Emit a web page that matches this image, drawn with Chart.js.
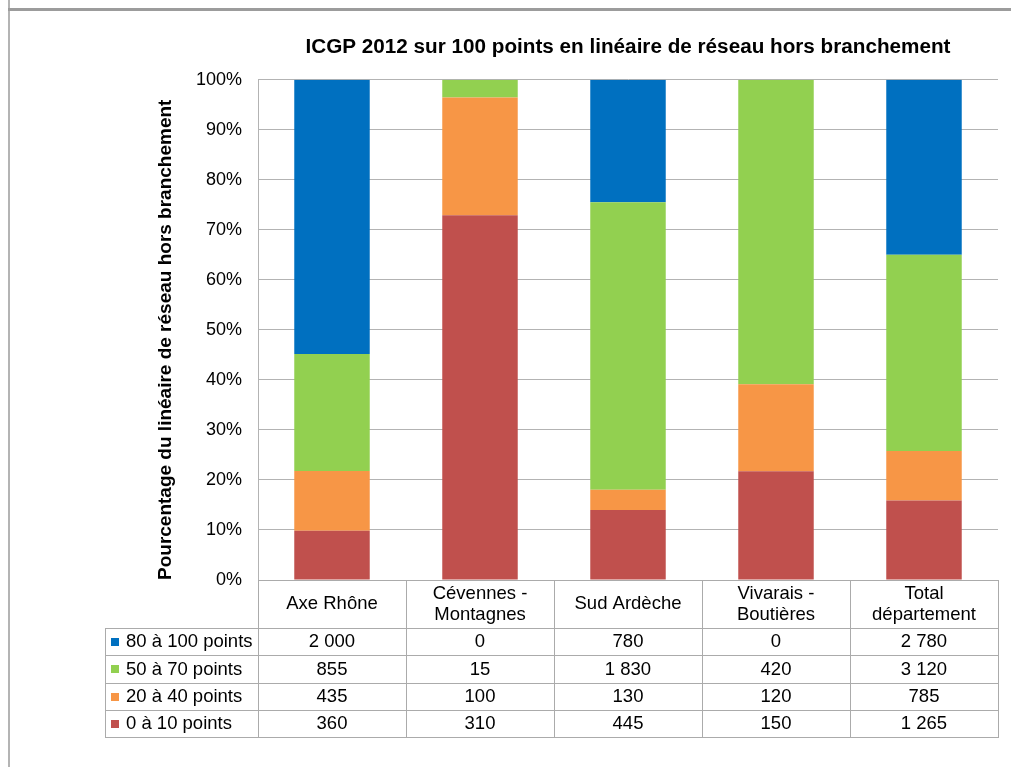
<!DOCTYPE html>
<html>
<head>
<meta charset="utf-8">
<script src="https://cdn.jsdelivr.net/npm/chart.js@4.4.1/dist/chart.umd.min.js"></script>
<style>
html,body{margin:0;padding:0;background:#fff;}
#wrap{width:1011px;height:767px;position:relative;}
canvas{display:block;}
</style>
</head>
<body>
<div id="wrap"><canvas id="c" width="1011" height="767"></canvas></div>
<script>
// ---- Data ----
const categories = [['Axe Rhône'], ['Cévennes -', 'Montagnes'], ['Sud Ardèche'], ['Vivarais -', 'Boutières'], ['Total', 'département']];
const seriesNames = ['0 à 10 points', '20 à 40 points', '50 à 70 points', '80 à 100 points'];
const v0to10 = [360, 310, 445, 150, 1265];
const v20to40 = [435, 100, 130, 120, 785];
const v50to70 = [855, 15, 1830, 420, 3120];
const v80to100 = [2000, 0, 780, 0, 2780];
const seriesColors = ['#C0504D', '#F79646', '#92D050', '#0070C0'];
const chartTitle = 'ICGP 2012 sur 100 points en linéaire de réseau hors branchement';
const yAxisTitle = 'Pourcentage du linéaire de réseau hors branchement';

const seriesValues = [v0to10, v20to40, v50to70, v80to100];
const totals = categories.map((_, i) => seriesValues.reduce((s, arr) => s + arr[i], 0));
const FONT = "'Liberation Sans', Arial, sans-serif";

function fmt(n) {
  return String(n).replace(/\B(?=(\d{3})+(?!\d))/g, ' ');
}

const framePlugin = {
  id: 'frame',
  beforeDraw(chart) {
    const ctx = chart.ctx;
    ctx.save();
    ctx.fillStyle = '#ffffff';
    ctx.fillRect(0, 0, chart.width, chart.height);
    ctx.fillStyle = '#b4b4b4';
    ctx.fillRect(8, 0, 2, chart.height);
    ctx.fillStyle = '#9c9c9c';
    ctx.fillRect(8, 8, chart.width - 8, 3);
    ctx.restore();
  }
};

const tablePlugin = {
  id: 'dataTable',
  afterDraw(chart) {
    const ctx = chart.ctx;
    const x = chart.scales.x;
    const n = categories.length;
    const colW = (x.right - x.left) / n;
    const top = chart.chartArea.bottom;
    const headerH = 48;
    const rowH = 27.3;
    const legendLeft = 105;
    const rowsOrder = [3, 2, 1, 0];
    const bottom = top + headerH + rowH * rowsOrder.length;
    const px = v => Math.round(v) + 0.5;

    ctx.save();
    ctx.strokeStyle = '#ababab';
    ctx.lineWidth = 1;
    ctx.beginPath();
    for (let i = 0; i <= n; i++) {
      const xx = px(x.left + i * colW);
      ctx.moveTo(xx, top);
      ctx.lineTo(xx, bottom);
    }
    ctx.moveTo(px(legendLeft), top + headerH);
    ctx.lineTo(px(legendLeft), bottom);
    ctx.moveTo(x.left, px(top));
    ctx.lineTo(x.right, px(top));
    for (let r = 0; r <= rowsOrder.length; r++) {
      const yy = px(top + headerH + r * rowH);
      ctx.moveTo(legendLeft, yy);
      ctx.lineTo(x.right + 1, yy);
    }
    ctx.stroke();

    ctx.fillStyle = '#000';
    ctx.font = '18.5px ' + FONT;
    ctx.textAlign = 'center';
    ctx.textBaseline = 'middle';
    categories.forEach((lines, i) => {
      const cx = x.getPixelForValue(i);
      const cy = top + headerH / 2;
      const lh = 21;
      lines.forEach((t, k) => {
        ctx.fillText(t, cx, cy + (k - (lines.length - 1) / 2) * lh);
      });
    });
    rowsOrder.forEach((s, r) => {
      const cy = top + headerH + r * rowH + rowH / 2 + 0.5;
      ctx.fillStyle = seriesColors[s];
      ctx.fillRect(111, Math.round(cy - 4), 8, 8);
      ctx.fillStyle = '#000';
      ctx.textAlign = 'left';
      ctx.fillText(seriesNames[s], 126, cy);
      ctx.textAlign = 'center';
      seriesValues[s].forEach((v, i) => {
        ctx.fillText(fmt(v), x.getPixelForValue(i), cy);
      });
    });
    ctx.restore();
  }
};

new Chart(document.getElementById('c').getContext('2d'), {
  type: 'bar',
  data: {
    labels: categories,
    datasets: seriesNames.map((name, k) => ({
      label: name,
      data: seriesValues[k].map((v, i) => v / totals[i] * 100),
      backgroundColor: seriesColors[k],
      borderWidth: 0,
      barPercentage: 0.51,
      categoryPercentage: 1
    }))
  },
  options: {
    responsive: false,
    animation: false,
    devicePixelRatio: 1,
    layout: { padding: { left: 0, right: 13, top: 0, bottom: 0 } },
    plugins: {
      legend: { display: false },
      tooltip: { enabled: false },
      title: {
        display: true,
        text: chartTitle,
        fullSize: false,
        color: '#000',
        font: { family: FONT, size: 20.7, weight: 'bold', lineHeight: 1.2 },
        padding: { top: 35, bottom: 20 }
      }
    },
    scales: {
      x: {
        stacked: true,
        grid: { display: false, drawTicks: false },
        border: { display: false },
        ticks: { display: false },
        afterFit: s => { s.height = 187; }
      },
      y: {
        stacked: true,
        min: 0,
        max: 100,
        ticks: {
          stepSize: 10,
          callback: v => v + '%',
          color: '#000',
          font: { family: FONT, size: 18 },
          padding: 16
        },
        grid: { color: '#b3b3b3', drawTicks: false, lineWidth: 1 },
        border: { display: true, color: '#b3b3b3' },
        title: {
          display: true,
          text: yAxisTitle,
          align: 'start',
          color: '#000',
          font: { family: FONT, size: 19, weight: 'bold', lineHeight: 1.2 },
          padding: { top: 154, bottom: 0 }
        },
        afterFit: s => { s.width = 258; }
      }
    }
  },
  plugins: [framePlugin, tablePlugin]
});
</script>
</body>
</html>
